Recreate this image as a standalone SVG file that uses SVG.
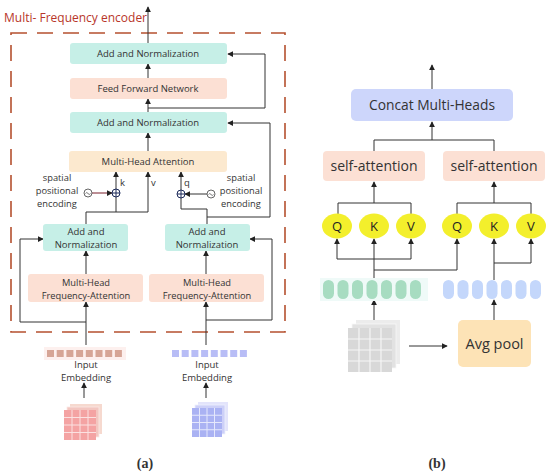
<svg xmlns="http://www.w3.org/2000/svg" width="550" height="476" viewBox="0 0 550 476">
<defs>
<marker id="ah" viewBox="0 0 8 8" refX="7" refY="4" markerWidth="6" markerHeight="6" orient="auto" markerUnits="userSpaceOnUse">
<path d="M0,0 L8,4 L0,8 z" fill="#222"/>
</marker>
</defs>
<style>
text{font-family:"Open Sans","Noto Sans","DejaVu Sans",sans-serif;fill:#333;}
.c{text-anchor:middle;}
.teal{fill:#c6efe7;}
.peach{fill:#fce0d4;}
.ln{fill:none;stroke:#333;stroke-width:1;}
.ar{fill:none;stroke:#333;stroke-width:1;marker-end:url(#ah);}
.t9{font-size:9.3px;}
.t95{font-size:9.5px;}
.t14{font-size:14px;}
.qkv{fill:#f3ef2c;}
.qt{font-size:13px;text-anchor:middle;fill:#222;}
</style>
<rect width="550" height="476" fill="#fff"/>

<!-- Panel (a) -->
<g id="encoder-frame">
<text x="4" y="22" font-size="12" style="fill:#b8362a">Multi- Frequency encoder</text>
<rect x="11" y="33" width="274" height="299" fill="none" stroke="#b5502f" stroke-width="1.6" stroke-dasharray="16,10"/>
</g>

<g id="connectors-a">
<path class="ar" d="M148,43 V7"/>
<path class="ar" d="M148,78 V64"/>
<path class="ar" d="M148,112 V99"/>
<path class="ar" d="M148,108 H265 V54 H228"/>
<path class="ar" d="M148,151 V133"/>
<path class="ln" d="M86,224 V212 H148"/>
<path class="ar" d="M148,212 V172"/>
<path class="ln" d="M116,212 V197"/>
<path class="ar" d="M116,189 V172"/>
<path class="ln" d="M207,224 V209 H181 V198"/>
<path class="ar" d="M181,190 V172"/>
<path class="ar" d="M207,217 H270 V123 H228"/>
<path class="ar" d="M92,193 H112" style="stroke:#7a1f2a"/>
<path class="ar" d="M207,194 H185"/>
<path class="ar" d="M86,274 V251"/>
<path class="ar" d="M206,274 V251"/>
<path class="ar" d="M86,345 V302"/>
<path class="ar" d="M206,345 V302"/>
<path class="ar" d="M86,322 H20 V239 H43"/>
<path class="ar" d="M206,320 H272 V239 H250"/>
<path class="ar" d="M84,398 V383"/>
<path class="ar" d="M206,398 V383"/>
</g>

<g id="add-norm-top">
<rect class="teal" x="70" y="43" width="157" height="21" rx="3"/>
<text class="c t95" x="148" y="57">Add and Normalization</text>
</g>
<g id="ffn">
<rect class="peach" x="70" y="78" width="157" height="21" rx="3"/>
<text class="c t95" x="148" y="92">Feed Forward Network</text>
</g>
<g id="add-norm-mid">
<rect class="teal" x="70" y="112" width="157" height="21" rx="3"/>
<text class="c t95" x="148" y="126">Add and Normalization</text>
</g>
<g id="mha">
<rect x="69" y="151" width="158" height="21" rx="3" fill="#fce9cf"/>
<text class="c t95" x="148" y="165">Multi-Head Attention</text>
</g>

<g id="pos-left">
<text class="c t9" x="57" y="181">spatial</text>
<text class="c t9" x="57" y="194">positional</text>
<text class="c t9" x="57" y="207">encoding</text>
<circle cx="88" cy="193" r="4" fill="#fff" stroke="#555" stroke-width="0.9"/>
<path d="M85.5,193.5 q1.2,-2 2.5,0 t2.5,0" fill="none" stroke="#555" stroke-width="0.8"/>
</g>
<g id="plus-k">
<circle cx="116" cy="193" r="4" fill="#fff" stroke="#1d2b5a" stroke-width="1"/>
<path d="M112,193 H120 M116,189 V197" stroke="#1d2b5a" stroke-width="1"/>
<text class="t95" x="120" y="186">k</text>
</g>
<text class="t95" x="151" y="186">v</text>
<g id="plus-q">
<circle cx="181" cy="194" r="4" fill="#fff" stroke="#1d2b5a" stroke-width="1"/>
<path d="M177,194 H185 M181,190 V198" stroke="#1d2b5a" stroke-width="1"/>
<text class="t95" x="184" y="186">q</text>
</g>
<g id="pos-right">
<circle cx="211" cy="194" r="4" fill="#fff" stroke="#555" stroke-width="0.9"/>
<path d="M208.5,194.5 q1.2,-2 2.5,0 t2.5,0" fill="none" stroke="#555" stroke-width="0.8"/>
<text class="c t9" x="241" y="181">spatial</text>
<text class="c t9" x="241" y="194">positional</text>
<text class="c t9" x="241" y="207">encoding</text>
</g>

<g id="add-norm-left">
<rect class="teal" x="43" y="224" width="85" height="27" rx="3"/>
<text class="c t95" x="86" y="235">Add and</text>
<text class="c t95" x="86" y="248">Normalization</text>
</g>
<g id="add-norm-right">
<rect class="teal" x="165" y="224" width="85" height="27" rx="3"/>
<text class="c t95" x="207" y="235">Add and</text>
<text class="c t95" x="207" y="248">Normalization</text>
</g>
<g id="mhfa-left">
<rect class="peach" x="28" y="274" width="115" height="28" rx="3"/>
<text class="c t9" x="86" y="285.5">Multi-Head</text>
<text class="c t9" x="86" y="298.5">Frequency-Attention</text>
</g>
<g id="mhfa-right">
<rect class="peach" x="149" y="274" width="115" height="28" rx="3"/>
<text class="c t9" x="207" y="285.5">Multi-Head</text>
<text class="c t9" x="207" y="298.5">Frequency-Attention</text>
</g>

<g id="embed-left">
<rect x="44" y="347" width="82" height="13" fill="#fdf0ee"/>
<g fill="#d6a596">
<rect x="47" y="350" width="7" height="7"/><rect x="56.7" y="350" width="7" height="7"/><rect x="66.4" y="350" width="7" height="7"/><rect x="76.1" y="350" width="7" height="7"/><rect x="85.8" y="350" width="7" height="7"/><rect x="95.5" y="350" width="7" height="7"/><rect x="105.2" y="350" width="7" height="7"/><rect x="114.9" y="350" width="7" height="7"/>
</g>
<text class="c t95" x="86" y="368">Input</text>
<text class="c t95" x="86" y="381">Embedding</text>
</g>
<g id="embed-right">
<g fill="#b8bdf6">
<rect x="172" y="350" width="7" height="7"/><rect x="181.7" y="350" width="7" height="7"/><rect x="191.4" y="350" width="7" height="7"/><rect x="201.1" y="350" width="7" height="7"/><rect x="210.8" y="350" width="7" height="7"/><rect x="220.5" y="350" width="7" height="7"/><rect x="230.2" y="350" width="7" height="7"/><rect x="239.9" y="350" width="7" height="7"/>
</g>
<text class="c t95" x="207" y="368">Input</text>
<text class="c t95" x="207" y="381">Embedding</text>
</g>

<g id="cube-left">
<rect x="70" y="404" width="32" height="30" fill="#f6d9cf"/>
<rect x="67" y="407" width="32" height="30" fill="#f3c6c0" stroke="#fbe8e6" stroke-width="0.8"/>
<rect x="64" y="410" width="32" height="30" fill="#f4a3a3"/>
<path d="M72,410 V440 M80,410 V440 M88,410 V440 M64,417.5 H96 M64,425 H96 M64,432.5 H96" stroke="#fbe1e1" stroke-width="1"/>
</g>
<g id="cube-right">
<rect x="198" y="402" width="30" height="29" fill="#e3e4fb"/>
<rect x="195" y="405" width="30" height="29" fill="#cdd0f8" stroke="#eef0fd" stroke-width="0.8"/>
<rect x="192" y="408" width="30" height="29" fill="#aab2f3"/>
<path d="M199.5,408 V437 M207,408 V437 M214.5,408 V437 M192,415.25 H222 M192,422.5 H222 M192,429.75 H222" stroke="#e5e8fc" stroke-width="1"/>
</g>

<text x="145" y="468" font-size="14" font-weight="bold" style="font-family:'Liberation Serif','DejaVu Serif',serif" class="c">(a)</text>

<!-- Panel (b) -->
<g id="connectors-b">
<path class="ar" d="M432,89 V65"/>
<path class="ln" d="M374,151 V140 H494 V151"/>
<path class="ar" d="M432,140 V122"/>
<path class="ln" d="M338,214 V203 H411 V214"/>
<path class="ar" d="M374,203 V182"/>
<path class="ln" d="M457,214 V203 H531 V214"/>
<path class="ar" d="M494,203 V182"/>
<path class="ar" d="M374,280 V239"/>
<path class="ln" d="M337,259 H411"/>
<path class="ar" d="M337,259 V239"/>
<path class="ar" d="M411,259 V239"/>
<path class="ln" d="M374,270 H457"/>
<path class="ar" d="M457,270 V239"/>
<path class="ar" d="M494,280 V239"/>
<path class="ln" d="M494,263 H531"/>
<path class="ar" d="M531,263 V239"/>
<path class="ar" d="M374,320 V300"/>
<path class="ar" d="M494,320 V300"/>
<path class="ar" d="M409,346 H447"/>
</g>

<g id="concat">
<rect x="351" y="89" width="162" height="32" rx="5" fill="#cdd6fb"/>
<text class="c" x="432" y="110" font-size="13.8">Concat Multi-Heads</text>
</g>
<g id="sa-left">
<rect class="peach" x="323" y="151" width="102" height="30" rx="4"/>
<text class="c t14" x="374" y="171">self-attention</text>
</g>
<g id="sa-right">
<rect class="peach" x="443" y="151" width="102" height="30" rx="4"/>
<text class="c t14" x="494" y="171">self-attention</text>
</g>

<g id="q1"><ellipse class="qkv" cx="337" cy="226" rx="15" ry="12.5"/><text class="qt" x="337" y="231">Q</text></g>
<g id="k1"><ellipse class="qkv" cx="374" cy="226" rx="15" ry="12.5"/><text class="qt" x="374" y="231">K</text></g>
<g id="v1"><ellipse class="qkv" cx="411" cy="226" rx="15" ry="12.5"/><text class="qt" x="411" y="231">V</text></g>
<g id="q2"><ellipse class="qkv" cx="457" cy="226" rx="15" ry="12.5"/><text class="qt" x="457" y="231">Q</text></g>
<g id="k2"><ellipse class="qkv" cx="494" cy="226" rx="15" ry="12.5"/><text class="qt" x="494" y="231">K</text></g>
<g id="v2"><ellipse class="qkv" cx="531" cy="226" rx="15" ry="12.5"/><text class="qt" x="531" y="231">V</text></g>

<g id="tokens-green">
<rect x="320" y="278" width="108" height="23" fill="#effaf8"/>
<g fill="#a7dcc1">
<rect x="323" y="280" width="11" height="19" rx="5.5"/><rect x="337.5" y="280" width="11" height="19" rx="5.5"/><rect x="352" y="280" width="11" height="19" rx="5.5"/><rect x="366.5" y="280" width="11" height="19" rx="5.5"/><rect x="381" y="280" width="11" height="19" rx="5.5"/><rect x="395.5" y="280" width="11" height="19" rx="5.5"/><rect x="410" y="280" width="11" height="19" rx="5.5"/>
</g>
</g>
<g id="tokens-blue">
<g fill="#c4d7fb">
<rect x="443" y="280" width="11" height="19" rx="5.5"/><rect x="457.5" y="280" width="11" height="19" rx="5.5"/><rect x="472" y="280" width="11" height="19" rx="5.5"/><rect x="486.5" y="280" width="11" height="19" rx="5.5"/><rect x="501" y="280" width="11" height="19" rx="5.5"/><rect x="515.5" y="280" width="11" height="19" rx="5.5"/><rect x="530" y="280" width="11" height="19" rx="5.5"/>
</g>
</g>

<g id="cube-gray">
<rect x="356" y="320" width="44" height="44" fill="#ececec"/>
<rect x="352" y="324" width="44" height="44" fill="#e2e2e2" stroke="#f7f7f7" stroke-width="0.8"/>
<rect x="348" y="328" width="44" height="44" fill="#d8d8d8"/>
<path d="M359,328 V372 M370,328 V372 M381,328 V372 M348,339 H392 M348,350 H392 M348,361 H392" stroke="#f5f5f5" stroke-width="1.2"/>
</g>
<g id="avg-pool">
<rect x="458" y="320" width="73" height="47" rx="5" fill="#fde3b6"/>
<text class="c" x="494.5" y="349" font-size="14.5">Avg pool</text>
</g>

<text x="437" y="468" font-size="14" font-weight="bold" style="font-family:'Liberation Serif','DejaVu Serif',serif" class="c">(b)</text>
</svg>
